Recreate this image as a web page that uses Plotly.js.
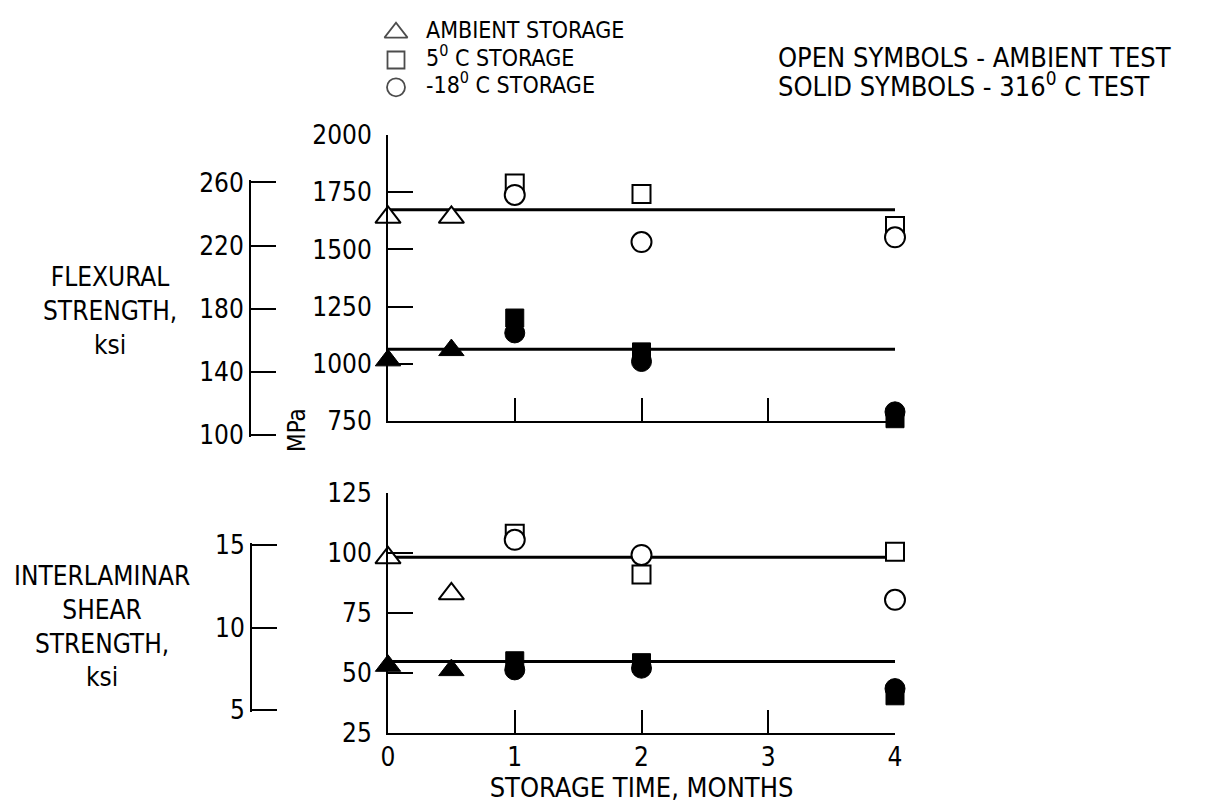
<!DOCTYPE html>
<html>
<head>
<meta charset="utf-8">
<script src="https://cdn.plot.ly/plotly-3.0.1.min.js"></script>
<style>html,body{margin:0;padding:0;background:#fff;}</style>
</head>
<body>
<div id="chart" style="width:1207px;height:804px;"></div>
<script>
// ---- data (storage time in months; strength in MPa) ----
const timeAmbient = [0, 0.5];
const timeCold = [1, 2, 4];
const fitTime = [0, 4];

// Flexural strength, MPa
const flexAmbientOpen = [1640, 1640];
const flex5COpen = [1788, 1742, 1602];
const flexM18COpen = [1738, 1532, 1553];
const flexAmbientSolid = [1015, 1060];
const flex5CSolid = [1200, 1052, 760];
const flexM18CSolid = [1135, 1010, 790];
const flexFitOpen = [1673, 1673];
const flexFitSolid = [1064, 1064];

// Interlaminar shear strength, MPa
const ilsAmbientOpen = [98, 83];
const ils5COpen = [108, 91, 100.5];
const ilsM18COpen = [105.5, 99.2, 80.5];
const ilsAmbientSolid = [53, 51.2];
const ils5CSolid = [55.1, 54.3, 40.5];
const ilsM18CSolid = [51.3, 52, 43.5];
const ilsFitOpen = [98.2, 98.2];
const ilsFitSolid = [54.8, 54.8];

// tick labels
const timeTicks = [0, 1, 2, 3, 4];
const flexMPaTicks = [750, 1000, 1250, 1500, 1750, 2000];
const flexKsiTicks = [100, 140, 180, 220, 260];
const ilsMPaTicks = [25, 50, 75, 100, 125];
const ilsKsiTicks = [5, 10, 15];

// legend key
const seriesNames = ['AMBIENT STORAGE', '5<sup>0</sup> C STORAGE', '-18<sup>0</sup> C STORAGE'];
const legendRows = [0, 1, 2];
const legendSymbolCol = [0, 0, 0];
const legendTextCol = [1, 1, 1];
const testNotes = ['OPEN SYMBOLS - AMBIENT TEST', 'SOLID SYMBOLS - 316<sup>0</sup> C TEST'];

const MPA_PER_KSI = 6.895;

// ---- layout geometry (pixels) ----
const W = 1207, H = 804;
const FONT = '"Liberation Sans Narrow", "DejaVu Sans Condensed", "Roboto Condensed", "Liberation Sans", sans-serif';
const px = v => v / W;
const py = v => 1 - v / H;

const xL = 388, xR = 895;
// top panel: MPa 750 at y=421, 2000 at y=135
const topBot = 421, topTop = 135;
const topScale = (topBot - topTop) / (2000 - 750);          // px per MPa
// bottom panel: MPa 25 at y=733, 125 at y=493
const botBot = 733, botTop = 493;
const botScale = (botBot - botTop) / (125 - 25);
// ksi axes share the MPa scale; a 2px pad keeps their end ticks drawn
const PAD_PX = 2;
const padTop = PAD_PX / (topScale * MPA_PER_KSI);
const padBot = PAD_PX / (botScale * MPA_PER_KSI);
const topKsiRange = [flexKsiTicks[0] - padTop, flexKsiTicks[flexKsiTicks.length - 1] + padTop];
const botKsiRange = [ilsKsiTicks[0] - padBot, ilsKsiTicks[ilsKsiTicks.length - 1] + padBot];
const ksiTopBot = topBot - (topKsiRange[0] * MPA_PER_KSI - 750) * topScale;
const ksiTopTop = topBot - (topKsiRange[1] * MPA_PER_KSI - 750) * topScale;
const ksiBotBot = botBot - (botKsiRange[0] * MPA_PER_KSI - 25) * botScale;
const ksiBotTop = botBot - (botKsiRange[1] * MPA_PER_KSI - 25) * botScale;
const ksiX = 251;

function openMk(sym, size) {
  return {symbol: sym, size: size, color: 'white', line: {color: 'black', width: 2}};
}
function solidMk(sym, size) {
  return {symbol: sym, size: size, color: 'black', line: {color: 'black', width: 1}};
}
const syms = ['triangle-up', 'square', 'circle'];
const sizes = [22, 18, 20];

function pts(x, y, xa, ya, mk) {
  return {x: x, y: y, xaxis: xa, yaxis: ya, mode: 'markers', type: 'scatter',
          marker: mk, showlegend: false, cliponaxis: false, hoverinfo: 'x+y'};
}
function fit(y, xa, ya) {
  return {x: fitTime, y: y, xaxis: xa, yaxis: ya, mode: 'lines', type: 'scatter',
          line: {color: 'black', width: 3}, showlegend: false, cliponaxis: false, hoverinfo: 'skip'};
}

const FONT_TEXT = {family: FONT, size: 23, color: 'black'};

const traces = [
  fit(flexFitOpen, 'x', 'y'),
  fit(flexFitSolid, 'x', 'y'),
  fit(ilsFitOpen, 'x2', 'y2'),
  fit(ilsFitSolid, 'x2', 'y2'),
  // top panel
  pts(timeAmbient, flexAmbientOpen, 'x', 'y', openMk(syms[0], sizes[0])),
  pts(timeCold, flex5COpen, 'x', 'y', openMk(syms[1], sizes[1])),
  pts(timeCold, flexM18COpen, 'x', 'y', openMk(syms[2], sizes[2])),
  pts(timeAmbient, flexAmbientSolid, 'x', 'y', solidMk(syms[0], sizes[0])),
  pts(timeCold, flex5CSolid, 'x', 'y', solidMk(syms[1], sizes[1])),
  pts(timeCold, flexM18CSolid, 'x', 'y', solidMk(syms[2], sizes[2])),
  // bottom panel
  pts(timeAmbient, ilsAmbientOpen, 'x2', 'y2', openMk(syms[0], sizes[0])),
  pts(timeCold, ils5COpen, 'x2', 'y2', openMk(syms[1], sizes[1])),
  pts(timeCold, ilsM18COpen, 'x2', 'y2', openMk(syms[2], sizes[2])),
  pts(timeAmbient, ilsAmbientSolid, 'x2', 'y2', solidMk(syms[0], sizes[0])),
  pts(timeCold, ils5CSolid, 'x2', 'y2', solidMk(syms[1], sizes[1])),
  pts(timeCold, ilsM18CSolid, 'x2', 'y2', solidMk(syms[2], sizes[2])),
  // ksi axes carriers
  {x: [], y: [], xaxis: 'x3', yaxis: 'y3', type: 'scatter', mode: 'markers', showlegend: false, hoverinfo: 'skip'},
  {x: [], y: [], xaxis: 'x4', yaxis: 'y4', type: 'scatter', mode: 'markers', showlegend: false, hoverinfo: 'skip'},
  // symbol key
  {x: legendSymbolCol, y: legendRows, xaxis: 'x5', yaxis: 'y5', type: 'scatter', mode: 'markers',
   marker: {symbol: ['triangle-up-open', 'square-open', 'circle-open'], size: [20, 17, 18], color: 'black', line: {width: 1.8}},
   showlegend: false, cliponaxis: false, hoverinfo: 'skip'},
  {x: legendTextCol, y: legendRows, xaxis: 'x5', yaxis: 'y5', type: 'scatter', mode: 'text',
   text: seriesNames, textposition: 'middle right', textfont: FONT_TEXT,
   showlegend: false, cliponaxis: false, hoverinfo: 'skip'}
];

const tickFont = {family: FONT, size: 26, color: 'black'};
const baseAxis = {showgrid: false, zeroline: false, showline: true, linecolor: 'black', linewidth: 2,
                  ticks: 'inside', tickcolor: 'black', tickwidth: 2, tickfont: tickFont, fixedrange: true};
const hiddenAxis = {visible: false, showgrid: false, zeroline: false, fixedrange: true};

const layout = {
  width: W, height: H,
  margin: {l: 0, r: 0, t: 0, b: 0},
  paper_bgcolor: 'white', plot_bgcolor: 'rgba(0,0,0,0)',
  font: {family: FONT, size: 22, color: 'black'},
  showlegend: false,
  xaxis: Object.assign({}, baseAxis, {domain: [px(xL), px(xR)], range: [0, 4], anchor: 'y',
           tickmode: 'array', tickvals: [1, 2, 3, 4], ticklen: 23, showticklabels: false}),
  yaxis: Object.assign({}, baseAxis, {domain: [py(topBot), py(topTop)], range: [750, 2000], anchor: 'x',
           tickmode: 'array', tickvals: flexMPaTicks, ticklen: 25, ticklabelstandoff: 9}),
  xaxis3: Object.assign({}, hiddenAxis, {domain: [px(ksiX), px(ksiX + 20)], range: [0, 1], anchor: 'y3'}),
  yaxis3: Object.assign({}, baseAxis, {domain: [py(ksiTopBot), py(ksiTopTop)], range: topKsiRange, anchor: 'x3',
           tickmode: 'array', tickvals: flexKsiTicks, ticklen: 25, ticklabelstandoff: 0}),
  xaxis2: Object.assign({}, baseAxis, {domain: [px(xL), px(xR)], range: [0, 4], anchor: 'y2',
           tickmode: 'array', tickvals: timeTicks, ticklen: 23, ticklabelstandoff: 0,
           title: {text: 'STORAGE TIME, MONTHS', font: {family: FONT, size: 27, color: 'black'}, standoff: 2}}),
  yaxis2: Object.assign({}, baseAxis, {domain: [py(botBot), py(botTop)], range: [25, 125], anchor: 'x2',
           tickmode: 'array', tickvals: ilsMPaTicks, ticklen: 25, ticklabelstandoff: 9}),
  xaxis4: Object.assign({}, hiddenAxis, {domain: [px(ksiX + 1), px(ksiX + 21)], range: [0, 1], anchor: 'y4'}),
  yaxis4: Object.assign({}, baseAxis, {domain: [py(ksiBotBot), py(ksiBotTop)], range: botKsiRange, anchor: 'x4',
           tickmode: 'array', tickvals: ilsKsiTicks, ticklen: 25, ticklabelstandoff: 0}),
  // symbol key area
  xaxis5: Object.assign({}, hiddenAxis, {domain: [px(381), px(681)], range: [-0.5, 9.5], anchor: 'y5'}),
  yaxis5: Object.assign({}, hiddenAxis, {domain: [py(101), py(19)], range: [2.5, -0.5], anchor: 'x5'}),
  annotations: [
    {text: 'FLEXURAL<br>STRENGTH,<br>ksi', xref: 'paper', yref: 'paper', x: px(110), y: py(311),
     xanchor: 'center', yanchor: 'middle', showarrow: false, align: 'center', font: {family: FONT, size: 26, color: 'black'}},
    {text: 'INTERLAMINAR<br>SHEAR<br>STRENGTH,<br>ksi', xref: 'paper', yref: 'paper', x: px(102), y: py(626),
     xanchor: 'center', yanchor: 'middle', showarrow: false, align: 'center', font: {family: FONT, size: 26, color: 'black'}},
    {text: 'MPa', xref: 'paper', yref: 'paper', x: px(297), y: py(430), textangle: -90,
     xanchor: 'center', yanchor: 'middle', showarrow: false, font: {family: FONT, size: 24, color: 'black'}},
    {text: testNotes[0], xref: 'paper', yref: 'paper', x: px(776), y: py(58),
     xanchor: 'left', yanchor: 'middle', showarrow: false, font: {family: FONT, size: 27, color: 'black'}},
    {text: testNotes[1], xref: 'paper', yref: 'paper', x: px(776), y: py(85),
     xanchor: 'left', yanchor: 'middle', showarrow: false, font: {family: FONT, size: 27, color: 'black'}}
  ]
};

Plotly.newPlot('chart', traces, layout, {displayModeBar: false, staticPlot: true});
</script>
</body>
</html>
